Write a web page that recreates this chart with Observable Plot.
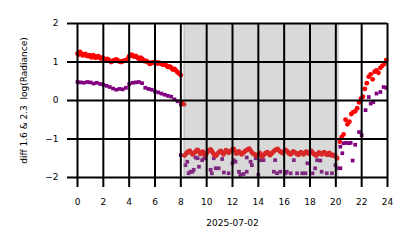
<!DOCTYPE html>
<html>
<head>
<meta charset="utf-8">
<script src="https://cdn.jsdelivr.net/npm/d3@7"></script>
<script src="https://cdn.jsdelivr.net/npm/@observablehq/plot@0.6"></script>
<style>
  html, body { margin: 0; padding: 0; background: #fff; }
  #chart svg { display: block; }
</style>
</head>
<body>
<div id="chart"></div>
<script>
// ---- data (hours of 2025-07-02) ----
const redDayHours = [0.0,0.1,0.2,0.3,0.4,0.5,0.6,0.7,0.8,0.9,1.0,1.1,1.2,1.3,1.4,1.5,1.6,1.7,1.8,1.9,2.0,2.1,2.2,2.3,2.4,2.5,2.6,2.7,2.8,2.9,3.0,3.1,3.2,3.3,3.4,3.5,3.6,3.7,3.8,3.9,4.0,4.1,4.2,4.3,4.4,4.5,4.6,4.7,4.8,4.9,5.0,5.1,5.2,5.3,5.4,5.5,5.6,5.7,5.8,5.9,6.0,6.1,6.2,6.3,6.4,6.5,6.6,6.7,6.8,6.9,7.0,7.1,7.2,7.3,7.4,7.5,7.6,7.7,7.8,7.9,8.0,8.1,8.25];
const redDayValues = [1.22,1.19,1.26,1.21,1.17,1.20,1.21,1.16,1.15,1.18,1.14,1.12,1.18,1.15,1.11,1.13,1.15,1.12,1.09,1.11,1.10,1.07,1.05,1.08,1.06,1.03,1.00,1.02,1.04,1.05,1.07,1.04,1.02,1.01,1.00,1.02,1.03,1.04,1.05,1.09,1.15,1.17,1.19,1.15,1.14,1.16,1.13,1.10,1.08,1.11,1.08,1.05,1.02,1.03,1.01,0.98,0.95,0.97,0.99,0.98,1.00,0.98,0.96,0.98,0.97,0.95,0.93,0.94,0.93,0.90,0.87,0.88,0.87,0.83,0.80,0.82,0.79,0.75,0.72,0.69,0.66,-0.06,-0.10];

const redNightHours = [8.3,8.4,8.5,8.6,8.7,8.8,8.9,9.0,9.1,9.2,9.3,9.4,9.5,9.6,9.7,9.8,9.9,10.0,10.1,10.2,10.3,10.4,10.5,10.6,10.7,10.8,10.9,11.0,11.1,11.2,11.3,11.4,11.5,11.6,11.7,11.8,11.9,12.0,12.1,12.2,12.3,12.4,12.5,12.6,12.7,12.8,12.9,13.0,13.1,13.2,13.3,13.4,13.5,13.6,13.7,13.8,13.9,14.0,14.1,14.2,14.3,14.4,14.5,14.6,14.7,14.8,14.9,15.0,15.1,15.2,15.3,15.4,15.5,15.6,15.7,15.8,15.9,16.0,16.1,16.2,16.3,16.4,16.5,16.6,16.7,16.8,16.9,17.0,17.1,17.2,17.3,17.4,17.5,17.6,17.7,17.8,17.9,18.0,18.1,18.2,18.3,18.4,18.5,18.6,18.7,18.8,18.9,19.0,19.1,19.2,19.3,19.4,19.5,19.6,19.7,19.8,19.9,20.0,20.1];
const redNightValues = [-1.43,-1.38,-1.35,-1.32,-1.31,-1.36,-1.40,-1.37,-1.34,-1.30,-1.28,-1.33,-1.39,-1.36,-1.33,-1.38,-1.42,-1.37,-1.32,-1.29,-1.27,-1.31,-1.37,-1.41,-1.44,-1.40,-1.36,-1.33,-1.31,-1.35,-1.40,-1.34,-1.29,-1.32,-1.36,-1.33,-1.30,-1.27,-1.26,-1.32,-1.38,-1.35,-1.32,-1.36,-1.40,-1.37,-1.34,-1.31,-1.29,-1.27,-1.25,-1.30,-1.35,-1.38,-1.40,-1.42,-1.44,-1.40,-1.36,-1.41,-1.46,-1.42,-1.38,-1.36,-1.34,-1.38,-1.42,-1.39,-1.35,-1.32,-1.29,-1.27,-1.26,-1.30,-1.33,-1.35,-1.37,-1.32,-1.28,-1.31,-1.35,-1.38,-1.40,-1.36,-1.32,-1.34,-1.37,-1.39,-1.41,-1.37,-1.34,-1.37,-1.40,-1.36,-1.33,-1.35,-1.38,-1.35,-1.31,-1.35,-1.39,-1.41,-1.43,-1.39,-1.35,-1.38,-1.40,-1.37,-1.34,-1.38,-1.41,-1.38,-1.36,-1.40,-1.43,-1.41,-1.43,-1.47,-1.50,-1.56,-1.62];

const redMorningHours = [20.3,20.45,20.6,20.75,20.9,21.05,21.2,21.35,21.5,21.65,21.8,21.95,22.1,22.25,22.4,22.55,22.7,22.85,23.0,23.15,23.3,23.45,23.6,23.75,23.9];
const redMorningValues = [-1.07,-0.95,-0.88,-0.50,-0.62,-0.55,-0.35,-0.30,-0.28,-0.20,-0.05,0.05,0.10,0.30,0.45,0.62,0.68,0.55,0.75,0.78,0.72,0.85,0.90,0.95,1.05];

const purpleDayHours = [0,0.25,0.5,0.75,1.0,1.25,1.5,1.75,2.0,2.25,2.5,2.75,3.0,3.25,3.5,3.75,4.0,4.25,4.5,4.75,5.0,5.25,5.5,5.75,6.0,6.25,6.5,6.75,7.0,7.25,7.5,7.75,8.0];
const purpleDayValues = [0.48,0.47,0.46,0.48,0.47,0.44,0.46,0.43,0.41,0.38,0.35,0.31,0.28,0.30,0.29,0.33,0.42,0.46,0.47,0.48,0.45,0.33,0.30,0.28,0.24,0.21,0.18,0.15,0.12,0.10,0.03,-0.02,-0.10];

const purpleNightHours = [8.0,8.36,8.5,8.6,8.75,8.9,9.0,9.13,9.3,9.4,9.65,9.8,9.9,10.3,10.4,10.55,10.7,10.93,11.2,11.33,11.7,12.0,12.1,12.23,12.5,12.6,12.85,13.1,13.1,13.4,13.5,13.8,14.0,14.2,14.4,15.2,15.3,15.45,15.7,16.1,16.2,16.5,16.75,17.0,17.4,17.65,17.8,18.2,18.4,18.55,18.8,18.9,19.3,19.5,19.7,19.97,20.1,20.35];
const purpleNightValues = [-1.42,-1.68,-1.59,-1.89,-1.85,-1.85,-1.80,-1.48,-1.50,-1.72,-1.55,-1.50,-1.50,-1.80,-1.89,-1.50,-1.76,-1.76,-1.52,-1.87,-1.89,-1.63,-1.55,-1.59,-1.85,-1.93,-1.91,-1.48,-1.85,-1.59,-1.68,-1.50,-1.93,-1.55,-1.55,-1.85,-1.55,-1.89,-1.85,-1.89,-1.85,-1.89,-1.55,-1.89,-1.89,-1.89,-1.63,-1.89,-1.76,-1.55,-1.56,-1.85,-1.89,-1.42,-1.89,-1.68,-1.76,-1.76];

const purpleMorningHours = [20.35,20.5,20.6,20.8,21.0,21.15,21.3,21.5,21.8,22.0,22.3,22.55,22.7,22.9,23.15,23.45,23.7,23.9];
const purpleMorningValues = [-1.20,-1.37,-1.11,-1.10,-1.11,-1.10,-1.56,-1.15,-0.82,-0.90,-0.25,0.09,-0.08,-0.04,0.18,0.22,0.35,0.33];

const shadeStart = [8.25];
const shadeEnd = [20.2];

const xTicks = [0,2,4,6,8,10,12,14,16,18,20,22,24];
const yTicks = [-2,-1,0,1,2];
const xLabel = "2025-07-02";
const yLabel = "diff 1.6 & 2.3  log(Radiance)";

// ---- build tables ----
const zip = (hs, vs) => hs.map((h, i) => ({h, v: vs[i]}));
const red = [...zip(redDayHours, redDayValues), ...zip(redNightHours, redNightValues), ...zip(redMorningHours, redMorningValues)];
const purple = [...zip(purpleDayHours, purpleDayValues), ...zip(purpleNightHours, purpleNightValues), ...zip(purpleMorningHours, purpleMorningValues)];
const shade = shadeStart.map((s, i) => ({x1: s, x2: shadeEnd[i]}));
const fmt = d => d < 0 ? "\u2212" + Math.abs(d) : String(d);

const chart = Plot.plot({
  width: 414,
  height: 248,
  marginLeft: 77,
  marginRight: 27,
  marginTop: 23,
  marginBottom: 71,
  style: {fontFamily: "DejaVu Sans", fontSize: "9px", background: "white", color: "black", overflow: "visible"},
  x: {domain: [0, 24]},
  y: {domain: [-2, 2]},
  marks: [
    Plot.dot(purple, {x: "h", y: "v", symbol: "square", r: 2.1, fill: "#800080", stroke: "none"}),
    Plot.dot(red, {x: "h", y: "v", r: 2.4, fill: "#ff0000", stroke: "none"}),
    Plot.rect(shade, {x1: "x1", x2: "x2", fill: "#808080", fillOpacity: 0.3}),
    Plot.ruleX(shade, {x: "x1", stroke: "#808080", strokeOpacity: 0.3, strokeWidth: 1.5}),
    Plot.ruleX(shade, {x: "x2", stroke: "#808080", strokeOpacity: 0.3, strokeWidth: 1.5}),
    Plot.gridX(xTicks, {stroke: "black", strokeOpacity: 1, strokeWidth: 2}),
    Plot.gridY(yTicks, {stroke: "black", strokeOpacity: 1, strokeWidth: 2}),
    Plot.axisX(xTicks, {tickSize: 10, tickPadding: 11, strokeWidth: 2, stroke: "black", tickFormat: fmt, label: null}),
    Plot.axisY(yTicks, {tickSize: 10, tickPadding: 9, strokeWidth: 2, stroke: "black", tickFormat: fmt, label: null}),
    Plot.text([xLabel], {frameAnchor: "bottom", dy: 46, lineAnchor: "middle", fill: "black"}),
    Plot.text([yLabel], {frameAnchor: "left", rotate: -90, dx: -53, lineAnchor: "middle", textAnchor: "middle", fill: "black"})
  ]
});
document.getElementById("chart").appendChild(chart);
</script>
</body>
</html>
